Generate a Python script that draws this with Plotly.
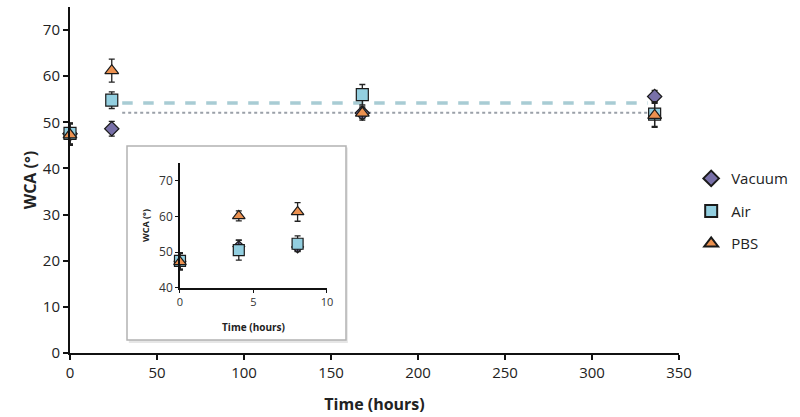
import plotly.graph_objects as go

# ---- main data (hours) ----
t_main = [0, 24, 168, 336]
vac_main = [47.5, 48.6, 52.0, 55.6]
vac_main_err = [2.3, 1.6, 1.5, 1.3]
air_main = [47.6, 54.8, 56.0, 51.8]
air_main_err = [2.3, 1.8, 2.2, 2.7]
pbs_main = [47.3, 61.2, 52.0, 51.5]
pbs_main_err = [2.3, 2.5, 1.2, 2.6]

# mean (trend) lines
mean_x = [30, 332]
air_mean = [54.2, 54.2]
vac_mean = [52.1, 52.1]

# ---- inset data (hours) ----
t_inset = [0, 4, 8]
vac_inset = [47.5, 51.6, 51.5]
vac_inset_err = [2.3, 1.8, 1.2]
air_inset = [47.6, 50.6, 52.4]
air_inset_err = [2.3, 2.8, 2.2]
pbs_inset = [47.3, 60.2, 61.3]
pbs_inset_err = [2.3, 1.4, 2.6]

main_yticks = [0, 10, 20, 30, 40, 50, 60, 70]
main_xticks = [0, 50, 100, 150, 200, 250, 300, 350]
inset_yticks = [40, 50, 60, 70]
inset_xticks = [0, 5, 10]

VAC = "#7870a8"
AIR = "#93cfe0"
PBS = "#ec9150"
FONT = "Open Sans"

fig = go.Figure()

fig.add_trace(go.Scatter(x=mean_x, y=vac_mean, mode="lines", showlegend=False,
                         line=dict(color="#9aa0a8", width=2, dash="dot"), hoverinfo="skip"))
fig.add_trace(go.Scatter(x=mean_x, y=air_mean, mode="lines", showlegend=False,
                         line=dict(color="#a8ccd4", width=3.5, dash="dash"), hoverinfo="skip"))

def add_series(x, y, err, name, color, symbol, size, xa, ya, show):
    fig.add_trace(go.Scatter(
        x=x, y=y, mode="markers", name=name, showlegend=show, legendgroup=name,
        xaxis=xa, yaxis=ya, cliponaxis=False,
        error_y=dict(type="data", array=err, color="#222222", thickness=1.3, width=3),
        marker=dict(color=color, symbol=symbol, size=size,
                    line=dict(color="#1a1a1a", width=1.2)),
    ))

add_series(t_main, vac_main, vac_main_err, "Vacuum", VAC, "diamond", 11, "x", "y", True)
add_series(t_main, air_main, air_main_err, "Air", AIR, "square", 12, "x", "y", True)
add_series(t_main, pbs_main, pbs_main_err, "PBS", PBS, "triangle-up", 12, "x", "y", True)

add_series(t_inset, vac_inset, vac_inset_err, "Vacuum", VAC, "diamond", 9, "x2", "y2", False)
add_series(t_inset, air_inset, air_inset_err, "Air", AIR, "square", 11, "x2", "y2", False)
add_series(t_inset, pbs_inset, pbs_inset_err, "PBS", PBS, "triangle-up", 11, "x2", "y2", False)

axis_common = dict(showgrid=False, zeroline=False, showline=True, linecolor="#111111",
                   ticks="outside", tickcolor="#111111")

fig.update_layout(
    width=800, height=417,
    margin=dict(l=70, r=121, t=7, b=64),
    paper_bgcolor="white", plot_bgcolor="white",
    font=dict(family=FONT, color="#222222"),
    xaxis=dict(**axis_common, range=[0, 350], tickvals=main_xticks, linewidth=2,
               ticklen=5, tickwidth=1.5, tickfont=dict(size=15),
               title=dict(text="<b>Time (hours)</b>", font=dict(size=16), standoff=18)),
    yaxis=dict(**axis_common, range=[0, 75], tickvals=main_yticks, linewidth=2,
               ticklen=5, tickwidth=1.5, tickfont=dict(size=15),
               title=dict(text="<b>WCA (°)</b>", font=dict(size=16), standoff=2)),
    xaxis2=dict(**axis_common, domain=[0.1806, 0.4220], anchor="y2", range=[0, 10],
                tickvals=inset_xticks, linewidth=1.5, ticklen=3, tickwidth=1,
                tickfont=dict(size=11, color="#333333"),
                title=dict(text="<b>Time (hours)</b>", font=dict(size=10), standoff=16)),
    yaxis2=dict(**axis_common, domain=[0.1879, 0.549], anchor="x2", range=[40, 75],
                tickvals=inset_yticks, linewidth=1.5, ticklen=3, tickwidth=1,
                tickfont=dict(size=12, color="#333333"),
                title=dict(text="<b>WCA (°)</b>", font=dict(size=9), standoff=8)),
    legend=dict(x=1.02, y=0.41, xanchor="left", yanchor="middle",
                font=dict(size=15, family=FONT), itemsizing="constant",
                tracegroupgap=10, bgcolor="rgba(0,0,0,0)"),
    shapes=[
        dict(type="rect", xref="paper", yref="paper", x0=0.0966, x1=0.4562,
             y0=0.029, y1=0.594, line=dict(width=0), fillcolor="#e6e6e6", layer="below"),
        dict(type="rect", xref="paper", yref="paper", x0=0.0936, x1=0.4532,
             y0=0.0376, y1=0.598, line=dict(color="#b3b3b3", width=1.5),
             fillcolor="white", layer="below"),
    ],
)

fig.write_html("out.html")
